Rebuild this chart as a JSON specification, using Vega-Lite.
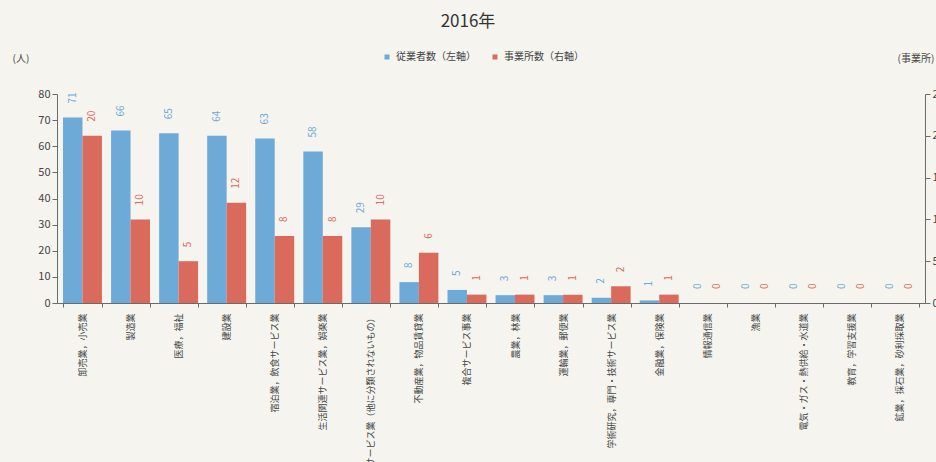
{
  "$schema": "https://vega.github.io/schema/vega-lite/v6.json",
  "width": 868,
  "height": 209,
  "autosize": "none",
  "padding": {"left": 57, "top": 94, "right": 11, "bottom": 159},
  "background": "#f5f4ef",
  "title": {"text": "2016年", "fontSize": 17, "fontWeight": "normal", "color": "#333333", "anchor": "middle", "frame": "group", "offset": 21, "dx": -23},
  "config": {
    "font": "Noto Sans CJK JP",
    "view": {"stroke": null},
    "axis": {"domainColor": "#6b6b6b", "tickColor": "#6b6b6b", "labelColor": "#444444", "grid": false, "titleColor": "#444444", "titleFontWeight": "normal", "titleFontSize": 10}
  },
  "data": {
    "values": [
      {"cat": "卸売業，小売業", "emp": 71, "est": 20},
      {"cat": "製造業", "emp": 66, "est": 10},
      {"cat": "医療，福祉", "emp": 65, "est": 5},
      {"cat": "建設業", "emp": 64, "est": 12},
      {"cat": "宿泊業，飲食サービス業", "emp": 63, "est": 8},
      {"cat": "生活関連サービス業，娯楽業", "emp": 58, "est": 8},
      {"cat": "サービス業（他に分類されないもの）", "emp": 29, "est": 10},
      {"cat": "不動産業，物品賃貸業", "emp": 8, "est": 6},
      {"cat": "複合サービス事業", "emp": 5, "est": 1},
      {"cat": "農業，林業", "emp": 3, "est": 1},
      {"cat": "運輸業，郵便業", "emp": 3, "est": 1},
      {"cat": "学術研究，専門・技術サービス業", "emp": 2, "est": 2},
      {"cat": "金融業，保険業", "emp": 1, "est": 1},
      {"cat": "情報通信業", "emp": 0, "est": 0},
      {"cat": "漁業", "emp": 0, "est": 0},
      {"cat": "電気・ガス・熱供給・水道業", "emp": 0, "est": 0},
      {"cat": "教育，学習支援業", "emp": 0, "est": 0},
      {"cat": "鉱業，採石業，砂利採取業", "emp": 0, "est": 0}
    ]
  },
  "encoding": {
    "x": {
      "field": "cat", "type": "nominal", "sort": null,
      "scale": {"paddingInner": 0.19, "paddingOuter": 0.125},
      "axis": {"title": null, "labelAngle": -90, "labelFontSize": 9, "labelLimit": 300, "labelPadding": 6, "tickBand": "extent", "tickSize": 4}
    }
  },
  "layer": [
    {
      "encoding": {
        "xOffset": {"datum": "従業者数（左軸）", "scale": {"domain": ["従業者数（左軸）", "事業所数（右軸）"], "paddingInner": 0, "paddingOuter": 0}},
        "y": {"field": "emp", "type": "quantitative", "scale": {"domain": [0, 80], "nice": false},
          "axis": {"orient": "left", "values": [0, 10, 20, 30, 40, 50, 60, 70, 80], "labelOverlap": false, "labelFontSize": 11, "tickSize": 5, "title": "(人)", "titleAngle": 0, "titleAlign": "left", "titleBaseline": "middle", "titleX": -45, "titleY": -36}}
      },
      "layer": [
        {
          "mark": {"type": "bar"},
          "encoding": {
            "color": {"datum": "従業者数（左軸）", "scale": {"domain": ["従業者数（左軸）", "事業所数（右軸）"], "range": ["#6eaad8", "#da6a5c"]},
              "legend": {"orient": "none", "legendX": 325, "legendY": -42, "direction": "horizontal", "title": null, "symbolType": "square", "symbolSize": 25, "labelFontSize": 10, "labelColor": "#444444", "columnPadding": 14}}
          }
        },
        {
          "mark": {"type": "text", "angle": -90, "align": "left", "baseline": "middle", "dx": 14, "fontSize": 10, "color": "#6eaad8"},
          "encoding": {
            "text": {"field": "emp", "type": "quantitative"}
          }
        }
      ]
    },
    {
      "encoding": {
        "xOffset": {"datum": "事業所数（右軸）"},
        "y": {"field": "est", "type": "quantitative", "scale": {"domain": [0, 25], "nice": false},
          "axis": {"orient": "right", "values": [0, 5, 10, 15, 20, 25], "labelOverlap": false, "labelFontSize": 11, "tickSize": 5, "title": "(事業所)", "titleAngle": 0, "titleAlign": "left", "titleBaseline": "middle", "titleX": -28, "titleY": -36}}
      },
      "layer": [
        {
          "mark": {"type": "bar"},
          "encoding": {
            "color": {"datum": "事業所数（右軸）"}
          }
        },
        {
          "mark": {"type": "text", "angle": -90, "align": "left", "baseline": "middle", "dx": 14, "fontSize": 10, "color": "#da6a5c"},
          "encoding": {
            "text": {"field": "est", "type": "quantitative"}
          }
        }
      ]
    }
  ],
  "resolve": {"scale": {"y": "independent"}}
}
